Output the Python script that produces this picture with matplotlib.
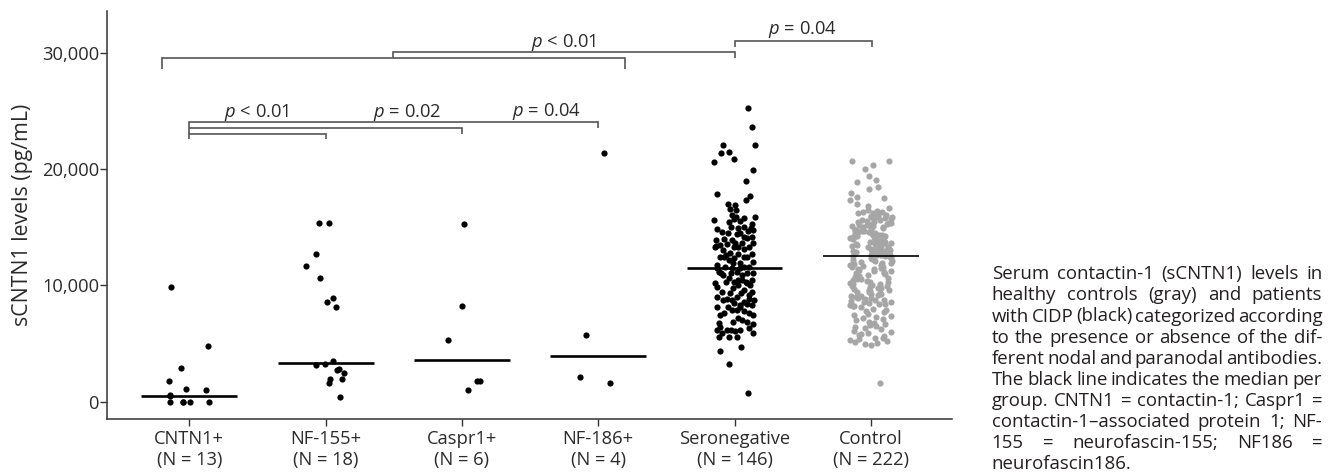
import matplotlib
matplotlib.use("Agg")
import matplotlib.pyplot as plt
import numpy as np

plt.rcParams['font.family'] = ['Open Sans', 'DejaVu Sans']
plt.rcParams['mathtext.fontset'] = 'custom'
plt.rcParams['mathtext.rm'] = 'Open Sans'
plt.rcParams['mathtext.it'] = 'Open Sans:italic'

# ---------------- data ----------------
groups = ["CNTN1+", "NF-155+", "Caspr1+", "NF-186+", "Seronegative", "Control"]
group_n = [13, 18, 6, 4, 146, 222]
medians = [530, 3370, 3570, 3900, 11470, 12500]

cntn1_vals = [9860, 4790, 2870, 1780, 1120, 1030, 520, 0, 0, 0, 0, 0, 550]
cntn1_jit = [-0.136, 0.134, -0.063, -0.149, -0.024, 0.125, -0.142, -0.144, -0.044, 0.005, 0.147, -0.044, -0.142]

nf155_vals = [15340, 15340, 12720, 11700, 10660, 8890, 8570, 8140, 3500, 3240,
              3130, 2810, 2700, 2490, 1950, 1930, 1580, 430]
nf155_jit = [-0.049, 0.022, -0.071, -0.145, -0.040, 0.056, 0.012, 0.073, 0.051, -0.007,
             -0.071, 0.098, 0.083, 0.137, 0.033, 0.121, 0.026, 0.105]

caspr1_vals = [15300, 8250, 5300, 1810, 1810, 1030]
caspr1_jit = [0.017, 0.004, -0.100, 0.110, 0.129, 0.041]

nf186_vals = [21380, 5740, 2100, 1630]
nf186_jit = [0.039, -0.088, -0.135, 0.085]

seroneg_vals = [25280, 23620, 22040, 22070, 21410, 21470, 20870, 20580, 19950, 18950,
                17860, 17660, 17370, 17000, 16940, 16600, 16480, 16020, 15680, 15590,
                15510, 15910, 15280, 14880, 14960, 15050, 14710, 14480, 14420, 14760,
                14910, 14190, 13900, 13670, 14050, 13670, 13330, 13470, 13560, 13330,
                13040, 12810, 13100, 12700, 12470, 12330, 12470, 12180, 11900, 11750,
                11610, 12040, 11610, 11470, 11180, 11180, 11040, 10890, 10610, 10230,
                10460, 10460, 10320, 10030, 10180, 9460, 9320, 9600, 9460, 9030,
                8830, 8800, 8170, 8460, 8170, 7880, 7450, 7770, 7450, 7170,
                6880, 6450, 6170, 5880, 6170, 6110, 6170, 6680, 5940, 5590,
                5530, 4730, 4360, 3270, 720, 13420, 13960, 13330, 13670, 13330,
                12700, 12610, 12470, 11520, 11900, 11470, 11610, 11040, 11040, 10890,
                11040, 10320, 10460, 10030, 9890, 9750, 9320, 9170, 8740, 8740,
                8600, 8310, 8170, 7880, 7600, 7600, 7020, 6880, 6740, 6310,
                6170, 5590, 8400, 14620, 15050, 14480, 13900, 14190, 15910, 15770,
                15480, 12470, 10320, 9030, 8740, 8310]
seroneg_jit = [0.098, 0.127, 0.147, -0.086, -0.100, -0.044, -0.005, -0.149, 0.139, 0.081,
               -0.127, 0.112, 0.083, -0.046, 0.005, -0.032, 0.012, -0.015, -0.007, -0.149,
               0.037, 0.149, 0.130, -0.127, 0.027, 0.073, 0.098, -0.049, 0.017, 0.139,
               0.120, 0.066, -0.020, 0.005, 0.090, 0.134, -0.142, -0.105, -0.056, 0.029,
               -0.081, -0.032, 0.066, 0.127, -0.105, -0.007, 0.090, -0.044, 0.042, -0.129,
               -0.068, 0.139, 0.066, -0.020, -0.117, 0.017, 0.090, -0.081, -0.044, -0.142,
               0.054, 0.127, -0.007, 0.029, 0.090, -0.093, -0.032, 0.066, 0.127, 0.017,
               -0.056, 0.103, -0.129, -0.007, 0.042, -0.020, -0.105, 0.071, 0.139, 0.029,
               0.090, -0.105, -0.129, -0.093, -0.027, 0.005, 0.042, 0.139, 0.139, -0.117,
               -0.044, 0.051, -0.105, -0.044, 0.098, -0.137, -0.076, -0.002, 0.054, 0.108,
               0.022, -0.061, 0.071, -0.130, -0.012, 0.037, 0.103, -0.100, -0.027, 0.054,
               0.134, -0.061, 0.022, 0.115, -0.125, -0.012, 0.046, 0.110, -0.086, -0.020,
               0.071, 0.127, -0.049, 0.017, 0.103, -0.076, 0.054, -0.012, -0.117, 0.103,
               -0.056, 0.017, 0.090, -0.093, -0.027, 0.042, -0.134, 0.127, 0.012, 0.071,
               -0.037, -0.076, 0.086, -0.130, 0.144, 0.037]

control_vals = [20720, 20670, 20320, 20010, 19400, 19030, 18890, 18430, 18320, 17970,
                17570, 17540, 17340, 16990, 16830, 16620,
                16470, 16410, 16330, 16290, 16210, 16150, 16080, 16020, 15970, 15930,
                15860, 15790, 15740, 15700, 15630, 15590, 15540, 15480, 15430, 15390,
                15350, 15280, 15220, 15190, 15130, 15080, 15020, 14990, 14940, 14880,
                14830, 14790, 14750, 14690, 14640, 14600, 14550, 14490, 14450, 14410,
                14370, 14320, 14280, 14230, 14190, 14140, 14090, 14060, 14010, 13970,
                13920, 13880, 13830, 13790, 13750, 13700, 13660, 13610, 13570, 13530,
                13490, 13440, 13400, 13350, 13310, 13260, 13230, 13180, 13140, 13100,
                13050, 13010, 12970, 12940, 12900, 12860, 12820, 12790, 12750, 12710,
                12680, 12650, 12610, 12580, 12550, 12530, 12510,
                15910, 15320, 14720, 14120, 13580, 13020, 16240, 12620,
                12480, 12420, 12360, 12310, 12250, 12190, 12130, 12080, 12010, 11960,
                11900, 11840, 11780, 11730, 11670, 11610, 11550, 11490, 11440, 11380,
                11320, 11260, 11200, 11150, 11090, 11030, 10970, 10910, 10860, 10800,
                10740, 10680, 10620, 10570, 10510, 10450, 10390, 10330, 10280, 10220,
                10160, 10100, 10040, 9990, 9930, 9870, 9810, 9750, 9700, 9640,
                9580, 9520, 9460, 9410, 9350, 9290, 9230, 9170, 9120, 9060,
                9000, 8940, 8880, 8830, 8770, 8710, 8650, 8590, 8540, 8480,
                8420, 8360, 8300, 8250, 8190, 8130,
                7980, 7870, 7760, 7690, 7580, 7470, 7390, 7300, 7180, 7090,
                6990, 6880, 6790, 6700, 6600, 6510, 6420, 6300, 6210, 6090,
                5990, 5880, 5780, 5700, 5610, 5520, 5440, 5380, 5290, 5200,
                5110, 5010, 4960, 4880, 1580]

tick_labels = [f"{g}\n(N = {n})" for g, n in zip(groups, group_n)]
y_ticks = [0, 10000, 20000, 30000]
y_ticklabels = ["0", "10,000", "20,000", "30,000"]

comparisons_text = ["p < 0.01", "p = 0.02", "p = 0.04", "p < 0.01", "p = 0.04"]

caption_lines = [
    "Serum contactin-1 (sCNTN1) levels in",
    "healthy controls (gray) and patients",
    "with CIDP (black) categorized according",
    "to the presence or absence of the dif-",
    "ferent nodal and paranodal antibodies.",
    "The black line indicates the median per",
    "group. CNTN1 = contactin-1; Caspr1 =",
    "contactin-1\u2013associated protein 1; NF-",
    "155 = neurofascin-155; NF186 =",
    "neurofascin186.",
]

# ---------------- figure ----------------
W_PX, H_PX = 1336, 474
fig = plt.figure(figsize=(W_PX / 100, H_PX / 100), dpi=100)
ax = fig.add_axes([0.0801, 0.1154, 0.6327, 0.8614])

TXT = '#2b2b2b'
black_groups = [(cntn1_vals, cntn1_jit), (nf155_vals, nf155_jit), (caspr1_vals, caspr1_jit),
                (nf186_vals, nf186_jit), (seroneg_vals, seroneg_jit)]
for i, (vals, jit) in enumerate(black_groups):
    xs = (i + 1) + np.asarray(jit)
    ax.scatter(xs, vals, s=20, color='black', linewidths=0, zorder=3)

# deterministic scatter of the control x-positions (hash sequence)
n_c = len(control_vals)
idx = np.arange(1, n_c + 1)
c_jit = (np.modf(np.abs(np.sin(idx * 12.9898) * 43758.5453))[0] - 0.5) * 0.31
ax.scatter(6 + c_jit, control_vals, s=20, color='#a6a6a6', linewidths=0, zorder=3)

for i, m in enumerate(medians):
    lw = 1.2 if i == 5 else 1.9
    ax.plot([i + 1 - 0.352, i + 1 + 0.352], [m, m], color='black', lw=lw,
            solid_capstyle='butt', zorder=4)

ax.set_xlim(0.396, 6.598)
ax.set_ylim(-1513, 33593)
ax.set_xticks(range(1, 7))
ax.set_xticklabels(tick_labels, fontsize=13.2, color=TXT, linespacing=1.2)
ax.set_yticks(y_ticks)
ax.set_yticklabels(y_ticklabels, fontsize=13.2, color=TXT)
ax.tick_params(axis='y', length=4.7, width=1.0, pad=1, color='#333333')
ax.tick_params(axis='x', length=4.7, width=1.0, pad=3, color='#333333')
for s in ['top', 'right']:
    ax.spines[s].set_visible(False)
for s in ['left', 'bottom']:
    ax.spines[s].set_linewidth(1.1)
    ax.spines[s].set_color('#333333')
ax.set_ylabel("sCNTN1 levels (pg/mL)", fontsize=15.3, color=TXT)
ax.yaxis.set_label_coords(-0.087, 0.5)

# significance brackets
BR = '#555555'
brackets = [
    ([1, 1, 4.0, 4.0], [22587, 24023, 24023, 23559]),
    ([1, 2.998, 2.998], [23533, 23533, 23017]),
    ([1, 2.0, 2.0], [23043, 23043, 22587]),
    ([0.80, 0.80, 4.197, 4.197], [28580, 29578, 29578, 28580]),
    ([2.497, 2.497, 5.0, 5.0], [29578, 30042, 30042, 29526]),
    ([5.0, 5.0, 6.007, 6.007], [30523, 30987, 30987, 30523]),
]
for bx, by in brackets:
    ax.plot(bx, by, color=BR, lw=1.2, clip_on=False, zorder=2,
            solid_joinstyle='miter', solid_capstyle='butt')

label_pos = [(1.494, 24504), (2.595, 24504), (3.620, 24564), (3.744, 30523), (5.497, 31615)]
for txt, (lx, ly) in zip(comparisons_text, label_pos):
    t = r"$\mathit{p}$" + txt[1:]
    ax.text(lx, ly, t, ha='center', va='baseline', fontsize=13.2, color=TXT, clip_on=False)

# justified caption
fig.canvas.draw()
r = fig.canvas.get_renderer()
x0, x1 = 991.7, 1322.3
base_fs = 10.0
min_gap = 2.5
fs_candidates = []
for line in caption_lines[:-1]:
    words = line.split(' ')
    tmp = [fig.text(0, 0, w, fontsize=base_fs) for w in words]
    sw = sum(t.get_window_extent(r).width for t in tmp)
    for t in tmp:
        t.remove()
    fs_candidates.append(base_fs * (x1 - x0 - (len(words) - 1) * min_gap) / sw)
cap_fs = min(fs_candidates)

for i, line in enumerate(caption_lines):
    yb = 279.3 + 21.1 * i
    words = line.split(' ')
    texts = [fig.text(0, 1 - yb / H_PX, w, fontsize=cap_fs, ha='left', va='baseline',
                      color='#231f20') for w in words]
    widths = [t.get_window_extent(r).width for t in texts]
    if i == len(caption_lines) - 1 or len(words) == 1:
        gap = 4.5
    else:
        gap = (x1 - x0 - sum(widths)) / (len(words) - 1)
    x = x0
    for t, w in zip(texts, widths):
        t.set_x(x / W_PX)
        x += w + gap

fig.savefig("out.png", dpi=100)
